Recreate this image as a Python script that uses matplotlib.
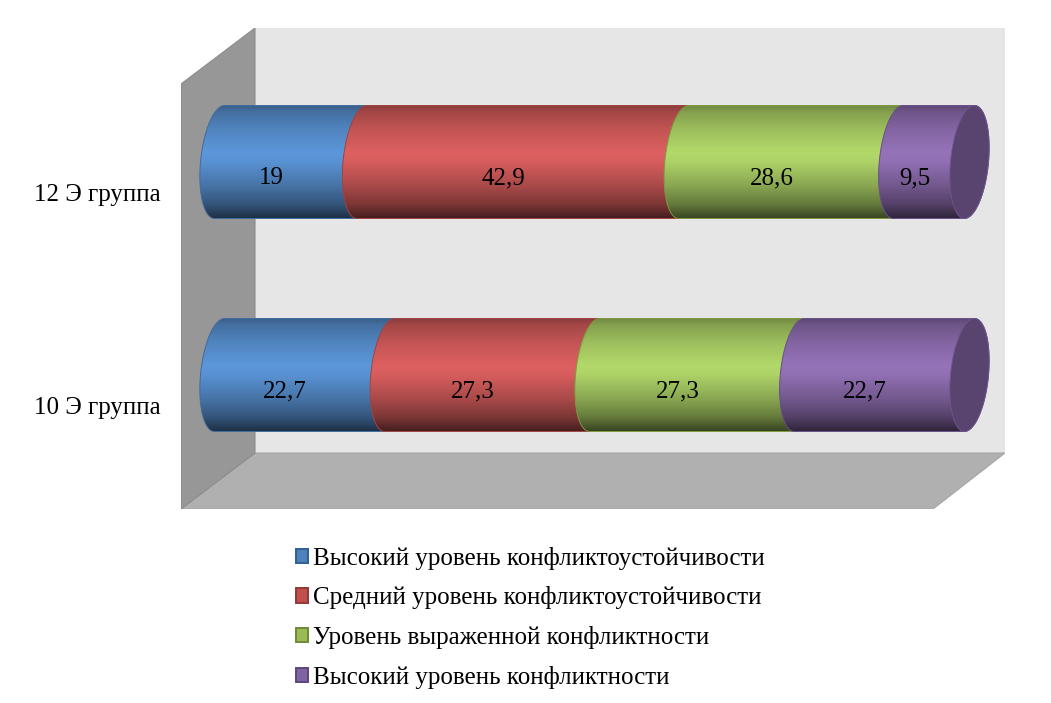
import numpy as np
import matplotlib
matplotlib.use("Agg")
import matplotlib.pyplot as plt
from matplotlib.patches import Patch, PathPatch, Polygon
from matplotlib.path import Path
from matplotlib.colors import to_rgb
from matplotlib.transforms import ScaledTranslation

plt.rcParams['font.family'] = ['Liberation Serif', 'DejaVu Serif']

W, H = 1051, 703
categories = ["10 Э группа", "12 Э группа"]
series_names = ["Высокий уровень конфликтоустойчивости",
                "Средний уровень конфликтоустойчивости",
                "Уровень выраженной конфликтности",
                "Высокий уровень конфликтности"]
high_resilience = [22.7, 19]
mid_resilience = [27.3, 42.9]
expressed_conflict = [27.3, 28.6]
high_conflict = [22.7, 9.5]
series_values = [high_resilience, mid_resilience, expressed_conflict, high_conflict]
value_labels = [["22,7", "19"], ["27,3", "42,9"], ["27,3", "28,6"], ["22,7", "9,5"]]

light_colors = ["#5c97da", "#de6060", "#b3d96a", "#9673b9"]
edge_colors = ["#3f6c9f", "#a04340", "#7d9a3c", "#66508a"]
legend_face = ["#4f81bd", "#c0504d", "#9bbb59", "#8064a2"]
legend_edge = ["#2f5f95", "#953735", "#6f8a35", "#5c4680"]
cap_color = "#59446f"
shade_pos = np.array([0, .06, .22, .42, .50, .72, .88, 1])
shade_val = np.array([.62, .74, .88, 1.0, .97, .76, .56, .32])

# plot area in pixels
L, R, T, B = 181, 1005, 28, 509
px_per_x, px_per_y = 7.5, 213.0
x0_px, y0_px = 200, 375
FS = 18

fig = plt.figure(figsize=(W / 100, H / 100), dpi=100, facecolor="white")
ax = fig.add_axes([L / W, 1 - B / H, (R - L) / W, (B - T) / H])
ax.set_xlim((L - x0_px) / px_per_x, (R - x0_px) / px_per_x)
ax.set_ylim((y0_px - B) / px_per_y, (y0_px - T) / px_per_y)
for s in ax.spines.values():
    s.set_visible(False)
ax.patch.set_visible(False)

# 3-D walls, in axes fractions
dx, dy = 74 / (R - L), 56 / (B - T)
fl_r = (933 - L) / (R - L)
ax.add_patch(Polygon([(dx, dy), (1, dy), (1, 1), (dx, 1)], transform=ax.transAxes,
                     fc="#e6e6e6", ec="#e2e2e2", lw=.6, zorder=1))
ax.add_patch(Polygon([(dx, dy), (1, dy), (fl_r, 0), (0, 0)], transform=ax.transAxes,
                     fc="#b0b0b0", ec="#a6a6a6", lw=.8, zorder=1.1))
ax.add_patch(Polygon([(0, 0), (dx, dy), (dx, 1), (0, 1 - dy)], transform=ax.transAxes,
                     fc="#979797", ec="#8c8c8c", lw=.8, zorder=1.2))

# cylinder geometry (data units)
a = 19.0 / px_per_x
k = 5.0 / px_per_x
b = 56.5 / px_per_y
c_off = 19.5 / px_per_x


def arc(v, yc, t0, t1):
    t = np.linspace(t0, t1, 60)
    return np.column_stack([v + c_off + a * np.cos(t) - k * np.sin(t), yc - b * np.sin(t)])


def segment(v0, v1, yc):
    pts = np.vstack([arc(v1, yc, -np.pi / 2, np.pi / 2),
                     arc(v0, yc, np.pi / 2, 3 * np.pi / 2)])
    return Path(np.vstack([pts, pts[0]]), closed=True)


ys = np.linspace(0, 1, 256)
z = 3.0
for c, yc in enumerate(range(len(categories))):
    left = 0.0
    for i, vals in enumerate(series_values):
        v = vals[c]
        right = left + v
        path = segment(left, right, yc)
        pts = path.vertices
        shade = np.interp(ys, shade_pos, shade_val)
        rgb = np.outer(shade, to_rgb(light_colors[i]))[:, None, :]
        im = ax.imshow(rgb, aspect="auto", origin="upper", interpolation="bilinear",
                       extent=(pts[:, 0].min() - 1, pts[:, 0].max() + 1, yc - b, yc + b),
                       zorder=z)
        patch = PathPatch(path, fc="none", ec=edge_colors[i], lw=.7, zorder=z + .1)
        ax.add_patch(patch)
        im.set_clip_path(patch)
        ax.text(left + v / 2, yc - 16 / px_per_y, value_labels[i][c], ha="center", va="center",
                fontsize=FS, color="black", zorder=20)
        z += 1
        left = right
    t = np.linspace(0, 2 * np.pi, 120)
    cap = np.column_stack([left + c_off + a * np.cos(t) - k * np.sin(t), yc - b * np.sin(t)])
    ax.add_patch(Polygon(cap, closed=True, fc=cap_color, ec="#6f5590", lw=.6, zorder=z))
    z += 1

ax.set_xlim((L - x0_px) / px_per_x, (R - x0_px) / px_per_x)
ax.set_ylim((y0_px - B) / px_per_y, (y0_px - T) / px_per_y)
ax.set_xticks([])
ax.set_yticks(range(len(categories)))
ax.set_yticklabels(categories, fontsize=FS)
ax.tick_params(axis="y", length=0, pad=15)
shift = ScaledTranslation(0, -30.5 / 100, fig.dpi_scale_trans)
for lab in ax.get_yticklabels():
    lab.set_transform(lab.get_transform() + shift)

handles = [Patch(fc=f, ec=e, lw=1.4) for f, e in zip(legend_face, legend_edge)]
fig.legend(handles, series_names, loc="upper left", bbox_to_anchor=(288 / W, 1 - 539 / H),
           frameon=False, fontsize=FS, handlelength=.5, handleheight=.5, handletextpad=.2,
           labelspacing=.67, borderpad=0.3, borderaxespad=0)

fig.savefig("out.png", dpi=100, facecolor="white")
